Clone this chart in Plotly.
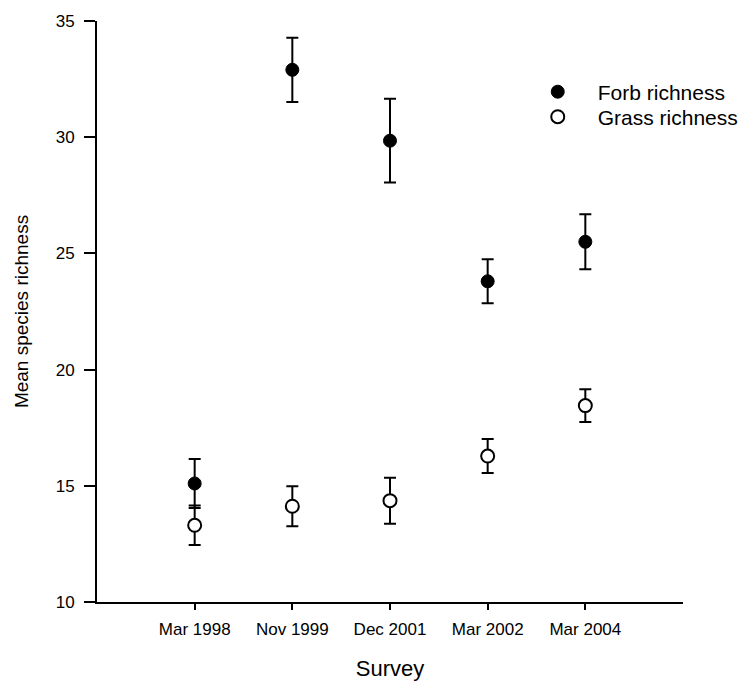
import plotly.graph_objects as go

surveys = ["Mar 1998", "Nov 1999", "Dec 2001", "Mar 2002", "Mar 2004"]
positions = [1, 2, 3, 4, 5]

forb_mean = [15.1, 32.9, 29.85, 23.8, 25.5]
forb_err = [1.05, 1.38, 1.8, 0.95, 1.18]

grass_mean = [13.3, 14.12, 14.36, 16.28, 18.45]
grass_err = [0.85, 0.86, 0.99, 0.73, 0.7]

y_ticks = [10, 15, 20, 25, 30, 35]

FONT = "Liberation Sans, Arial, Helvetica, sans-serif"

fig = go.Figure()
fig.add_trace(go.Scatter(
    x=positions, y=forb_mean, mode="markers", name="Forb richness", legend="legend",
    marker=dict(symbol="circle", size=13, color="black", line=dict(color="black", width=1)),
    error_y=dict(type="data", array=forb_err, visible=True, color="black", thickness=2, width=6),
))
fig.add_trace(go.Scatter(
    x=positions, y=grass_mean, mode="markers", name="Grass richness", legend="legend2",
    marker=dict(symbol="circle", size=13, color="white", line=dict(color="black", width=2)),
    error_y=dict(type="data", array=grass_err, visible=True, color="black", thickness=2, width=6),
))

legend_style = dict(xanchor="left", yanchor="top", font=dict(size=21, family=FONT),
                    bgcolor="rgba(0,0,0,0)", itemwidth=70)

fig.update_layout(
    width=756, height=689,
    margin=dict(l=97, r=73, t=18, b=85),
    paper_bgcolor="white", plot_bgcolor="white",
    font=dict(family=FONT, color="black"),
    showlegend=True,
    legend=dict(x=0.718, y=0.913, **legend_style),
    legend2=dict(x=0.718, y=0.870, **legend_style),
    xaxis=dict(
        range=[0, 6], tickvals=positions, ticktext=surveys,
        showline=True, linecolor="black", linewidth=2,
        ticks="outside", ticklen=6, tickwidth=2, tickcolor="black",
        showgrid=False, zeroline=False,
        ticklabelstandoff=5,
        tickfont=dict(size=17, family=FONT),
        title=dict(text="Survey", font=dict(size=22, family=FONT), standoff=22),
    ),
    yaxis=dict(
        range=[10, 35], tickvals=y_ticks,
        showline=True, linecolor="black", linewidth=2,
        ticks="outside", ticklen=11, tickwidth=2, tickcolor="black",
        showgrid=False, zeroline=False,
        ticklabelstandoff=6,
        tickfont=dict(size=17, family=FONT),
        title=dict(text="Mean species richness", font=dict(size=19, family=FONT), standoff=22),
    ),
)

fig.write_html("out.html")
